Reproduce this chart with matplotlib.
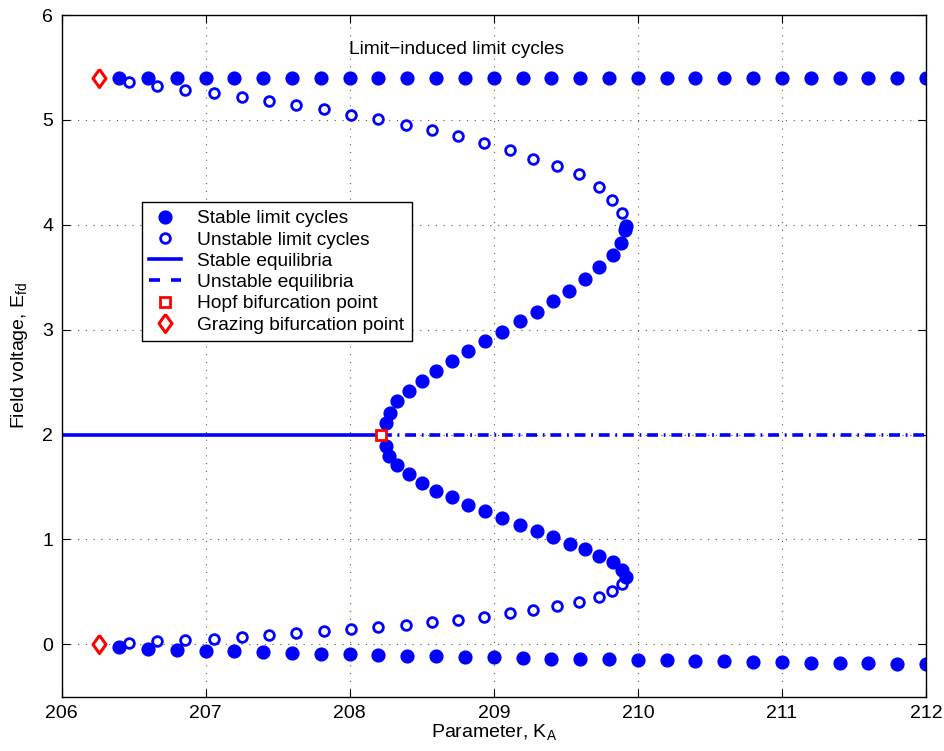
import matplotlib
matplotlib.use("Agg")
import matplotlib.pyplot as plt
from matplotlib.lines import Line2D

plt.rcParams['font.family'] = ['Liberation Sans', 'DejaVu Sans']
plt.rcParams['mathtext.default'] = 'regular'

# Stable limit cycles: upper and lower envelopes of the outer branch
stable_top_x = [206.4 + 0.2 * i for i in range(29)]
stable_top_y = [5.40] * 29
stable_bot_x = [206.4 + 0.2 * i for i in range(29)]
stable_bot_y = [-0.029, -0.042, -0.051, -0.061, -0.067, -0.076, -0.083, -0.090,
                -0.095, -0.102, -0.109, -0.114, -0.118, -0.124, -0.131, -0.137,
                -0.140, -0.143, -0.150, -0.153, -0.159, -0.162, -0.166, -0.169,
                -0.175, -0.179, -0.181, -0.188, -0.191]

# Stable limit cycles born at the Hopf point (S-shaped branch)
s_x = [209.92, 209.91, 209.88, 209.83, 209.73, 209.63, 209.52, 209.41, 209.30,
       209.18, 209.06, 208.94, 208.82, 208.71, 208.60, 208.50, 208.41, 208.33,
       208.28, 208.25,
       208.25, 208.27, 208.33, 208.41, 208.50, 208.60, 208.71, 208.82, 208.94,
       209.06, 209.18, 209.30, 209.41, 209.53, 209.63, 209.73, 209.83, 209.89,
       209.92]
s_y = [3.99, 3.95, 3.83, 3.71, 3.60, 3.48, 3.37, 3.27, 3.17, 3.08, 2.98, 2.89,
       2.80, 2.70, 2.61, 2.51, 2.42, 2.32, 2.21, 2.11,
       1.89, 1.80, 1.71, 1.62, 1.54, 1.46, 1.40, 1.33, 1.27, 1.20, 1.14, 1.08,
       1.02, 0.96, 0.91, 0.84, 0.78, 0.71, 0.645]

# Unstable limit cycles
unstable_x = [206.47, 206.66, 206.86, 207.06, 207.25, 207.44, 207.63, 207.82,
              208.01, 208.20, 208.39, 208.57, 208.75, 208.93, 209.11, 209.27,
              209.44, 209.59, 209.73, 209.82, 209.89]
unstable_top_y = [5.36, 5.32, 5.29, 5.26, 5.22, 5.18, 5.14, 5.10, 5.05, 5.01,
                  4.95, 4.90, 4.85, 4.78, 4.71, 4.63, 4.56, 4.48, 4.36, 4.24,
                  4.11]
unstable_bot_y = [0.015, 0.031, 0.041, 0.053, 0.070, 0.086, 0.105, 0.125,
                  0.143, 0.162, 0.184, 0.210, 0.232, 0.258, 0.296, 0.327,
                  0.362, 0.400, 0.448, 0.508, 0.575]

# Equilibria and bifurcation points
eq_stable_x = [206.0, 208.215]
eq_unstable_x = [208.215, 212.0]
eq_y = [2.0, 2.0]
hopf_x, hopf_y = [208.215], [2.0]
graze_x, graze_y = [206.26, 206.26], [5.40, 0.0]

blue = (0, 0, 1)
red = (1, 0, 0)
eq_lw = 2.6
dash_dot = (0, (3.0, 1.6, 0.5, 1.6))
diamond = [(0, 1), (0.72, 0), (0, -1), (-0.72, 0), (0, 1)]

fig = plt.figure(figsize=(9.45, 7.51), dpi=100)
ax = fig.add_axes([0.0651, 0.0723, 0.9148, 0.9076])

ax.plot(eq_stable_x, eq_y, color=blue, lw=eq_lw, solid_capstyle='butt')
ax.plot(eq_unstable_x, eq_y, color=blue, lw=eq_lw, linestyle=dash_dot,
        dash_capstyle='butt')

dot_kw = dict(linestyle='none', marker='o', ms=9.2, color=blue, mec=blue)
ring_kw = dict(linestyle='none', marker='o', ms=7.0, mew=2.0, mfc='white', mec=blue)
hopf_kw = dict(linestyle='none', marker='s', ms=7.3, mew=2.0, mfc='white', mec=red)
graze_kw = dict(linestyle='none', marker=diamond, ms=13, mew=2.2, mfc='white', mec=red)

ax.plot(unstable_x, unstable_top_y, **ring_kw)
ax.plot(unstable_x, unstable_bot_y, **ring_kw)
ax.plot(stable_top_x, stable_top_y, **dot_kw)
ax.plot(stable_bot_x, stable_bot_y, **dot_kw)
ax.plot(s_x, s_y, **dot_kw)

ax.plot(hopf_x, hopf_y, zorder=5, **hopf_kw)
ax.plot(graze_x, graze_y, zorder=5, **graze_kw)

ax.text(208.74, 5.67, 'Limit\u2212induced limit cycles', fontsize=13.8,
        ha='center', va='center')

ax.set_xlim(206, 212)
ax.set_ylim(-0.5, 6)
ax.set_xticks(range(206, 213))
ax.set_yticks(range(0, 7))
ax.tick_params(direction='in', length=6, width=0.8, top=True, right=True,
               labelsize=14, pad=6)
ax.grid(True, linestyle=(0, (1, 6)), color='#555555', linewidth=0.8)
for sp in ax.spines.values():
    sp.set_linewidth(1.0)

ax.set_xlabel('Parameter, K$_A$', fontsize=14, labelpad=0)
ax.set_ylabel('Field voltage, E$_{fd}$', fontsize=14, labelpad=9)

handles = [
    Line2D([], [], **dot_kw),
    Line2D([], [], **ring_kw),
    Line2D([], [], color=blue, lw=eq_lw),
    Line2D([], [], color=blue, lw=eq_lw, linestyle=(0, (3.05, 3.05))),
    Line2D([], [], **hopf_kw),
    Line2D([], [], **graze_kw),
]
labels = ['Stable limit cycles', 'Unstable limit cycles', 'Stable equilibria',
          'Unstable equilibria', 'Hopf bifurcation point',
          'Grazing bifurcation point']
leg = ax.legend(handles, labels, loc='upper left', bbox_to_anchor=(0.0928, 0.7254),
                fontsize=13.8, frameon=True, fancybox=False, framealpha=1,
                edgecolor='black', borderaxespad=0, labelspacing=0.2,
                handlelength=1.65, handletextpad=0.85, borderpad=0.4)
leg.get_frame().set_linewidth(1.0)

fig.savefig('out.png', dpi=100)
